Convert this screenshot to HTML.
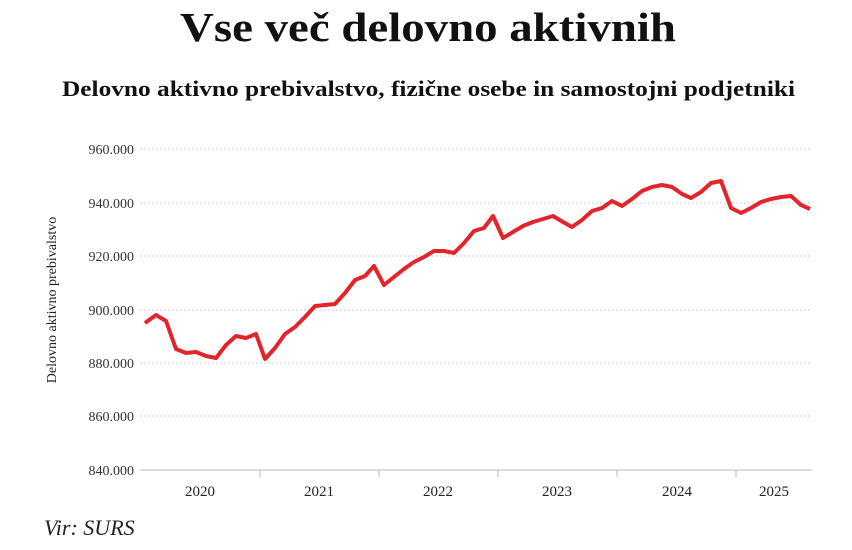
<!DOCTYPE html>
<html><head><meta charset="utf-8"><style>
body{margin:0;background:#fff;width:852px;height:545px;overflow:hidden;font-family:"Liberation Serif",serif;}
</style></head><body>
<svg width="852" height="545" xmlns="http://www.w3.org/2000/svg" font-family="Liberation Serif, serif">
<text x="180" y="41" font-size="41" font-weight="bold" fill="#111" textLength="496" lengthAdjust="spacingAndGlyphs">Vse več delovno aktivnih</text>
<text x="62" y="96" font-size="22" font-weight="bold" fill="#111" textLength="733" lengthAdjust="spacingAndGlyphs">Delovno aktivno prebivalstvo, fizične osebe in samostojni podjetniki</text>
<g stroke="#ccc" stroke-width="1" stroke-dasharray="2,2">
<line x1="140" x2="812" y1="149" y2="149"/><line x1="140" x2="812" y1="203" y2="203"/>
<line x1="140" x2="812" y1="256" y2="256"/><line x1="140" x2="812" y1="310" y2="310"/>
<line x1="140" x2="812" y1="363" y2="363"/><line x1="140" x2="812" y1="416" y2="416"/>
</g>
<line x1="140" x2="812" y1="470" y2="470" stroke="#bbb"/>
<g stroke="#bbb"><line x1="260" x2="260" y1="470" y2="477"/><line x1="379" x2="379" y1="470" y2="477"/><line x1="498" x2="498" y1="470" y2="477"/><line x1="617" x2="617" y1="470" y2="477"/><line x1="736" x2="736" y1="470" y2="477"/></g>
<g font-size="14" fill="#333" text-anchor="end">
<text x="134" y="154">960.000</text><text x="134" y="208">940.000</text><text x="134" y="261">920.000</text>
<text x="134" y="315">900.000</text><text x="134" y="368">880.000</text><text x="134" y="421">860.000</text><text x="134" y="475">840.000</text>
</g>
<g font-size="15" fill="#222" text-anchor="middle">
<text x="200" y="496">2020</text><text x="319" y="496">2021</text><text x="438" y="496">2022</text><text x="557" y="496">2023</text><text x="677" y="496">2024</text><text x="774" y="496">2025</text>
</g>
<text transform="translate(56,300) rotate(-90)" text-anchor="middle" font-size="14" fill="#222">Delovno aktivno prebivalstvo</text>
<text x="44" y="535" font-size="22" font-style="italic" fill="#222">Vir: SURS</text>
<polyline fill="none" stroke="#e3242b" stroke-width="4" stroke-linejoin="round" points="145,323 156,315 166,321 176,349 186,353 196,352 206,356 216,358 226,345 236,336 246,338 256,334 265,359 275,348 285,334 295,327 305,317 315,306 325,305 335,304 345,293 355,280 365,276 374,266 384,285 394,277 404,269 414,262 424,257 434,251 444,251 454,253 464,243 474,231 484,228 493,216 503,238 513,232 523,226 533,222 543,219 553,216 563,222 572,227 582,220 592,211 602,208 612,201 622,206 632,199 642,191 652,187 662,185 672,187 682,194 691,198 701,192 711,183 721,181 731,208 741,213 751,208 761,202 771,199 781,197 791,196 801,205 810,209"/>
</svg>
</body></html>
